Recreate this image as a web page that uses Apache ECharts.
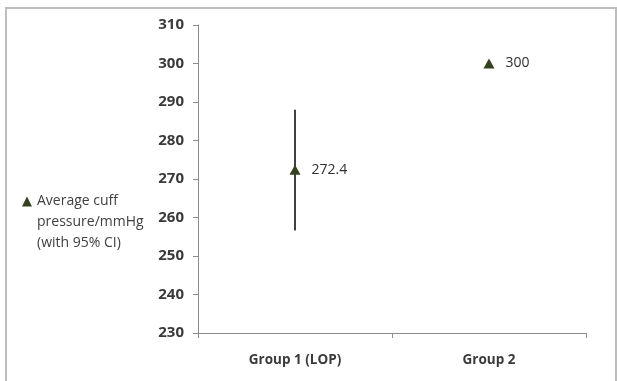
<!DOCTYPE html>
<html>
<head>
<meta charset="utf-8">
<script src="https://cdn.jsdelivr.net/npm/echarts@6/dist/echarts.min.js"></script>
<style>html,body{margin:0;padding:0;background:#fff}#c{width:617px;height:381px}</style>
</head>
<body>
<div id="c"></div>
<script>
const categories = ['Group 1 (LOP)', 'Group 2'];
const meanValues = [272.4, 300];
const ciLow = [256.6, null];
const ciHigh = [288.0, null];
const yTicks = { min: 230, max: 310, interval: 10 };
const seriesName = 'Average cuff pressure/mmHg (with 95% CI)';

const chart = echarts.init(document.getElementById('c'), null, { renderer: 'canvas' });
const ciData = categories.map((c, i) => [i, ciLow[i], ciHigh[i]]).filter(d => d[1] != null);

chart.setOption({
  animation: false,
  backgroundColor: '#fff',
  graphic: [{
    type: 'rect', silent: true, z: -10,
    shape: { x: 6, y: 8, width: 610, height: 500 },
    style: { fill: 'none', stroke: '#bdbdbd', lineWidth: 2 }
  }],
  grid: { left: 198, right: 31, top: 25, bottom: 48 },
  legend: {
    left: 22, top: 149, orient: 'vertical', padding: 0,
    itemWidth: 10, itemHeight: 10, itemGap: 8,
    data: [{ name: seriesName, icon: 'triangle' }],
    formatter: () => '\n\nAverage cuff\npressure/mmHg\n(with 95% CI)',
    textStyle: { fontFamily: 'Open Sans', fontSize: 14, color: '#404040', lineHeight: 21 }
  },
  xAxis: {
    type: 'category', data: categories, boundaryGap: true,
    axisLine: { lineStyle: { color: '#8c8c8c', width: 1 } },
    axisTick: { show: true, length: 5, lineStyle: { color: '#8c8c8c' } },
    axisLabel: { margin: 20, fontFamily: 'Open Sans', fontWeight: 'bold', fontSize: 13.5, color: '#3a3a3a' },
    splitLine: { show: false }
  },
  yAxis: {
    type: 'value', min: yTicks.min, max: yTicks.max, interval: yTicks.interval,
    axisLine: { show: true, lineStyle: { color: '#8c8c8c', width: 1 } },
    axisTick: { show: true, length: 5, lineStyle: { color: '#8c8c8c' } },
    axisLabel: { margin: 14, fontFamily: 'Open Sans', fontWeight: 'bold', fontSize: 15, color: '#3a3a3a' },
    splitLine: { show: false }
  },
  series: [
    {
      type: 'custom', name: 'CI', silent: true, z: 1,
      data: ciData,
      renderItem: (params, api) => {
        const lo = api.coord([api.value(0), api.value(1)]);
        const hi = api.coord([api.value(0), api.value(2)]);
        return { type: 'line', shape: { x1: lo[0], y1: lo[1], x2: hi[0], y2: hi[1] },
          style: { stroke: '#000', lineWidth: 1.5 } };
      }
    },
    {
      type: 'scatter', name: seriesName, z: 3,
      data: meanValues,
      symbol: 'triangle', symbolSize: [11, 10],
      itemStyle: { color: '#35401f', opacity: 1 },
      label: { show: true, position: 'right', distance: 11, fontFamily: 'Open Sans', fontSize: 14, color: '#303030',
        formatter: p => String(p.value) }
    }
  ]
});
</script>
</body>
</html>
